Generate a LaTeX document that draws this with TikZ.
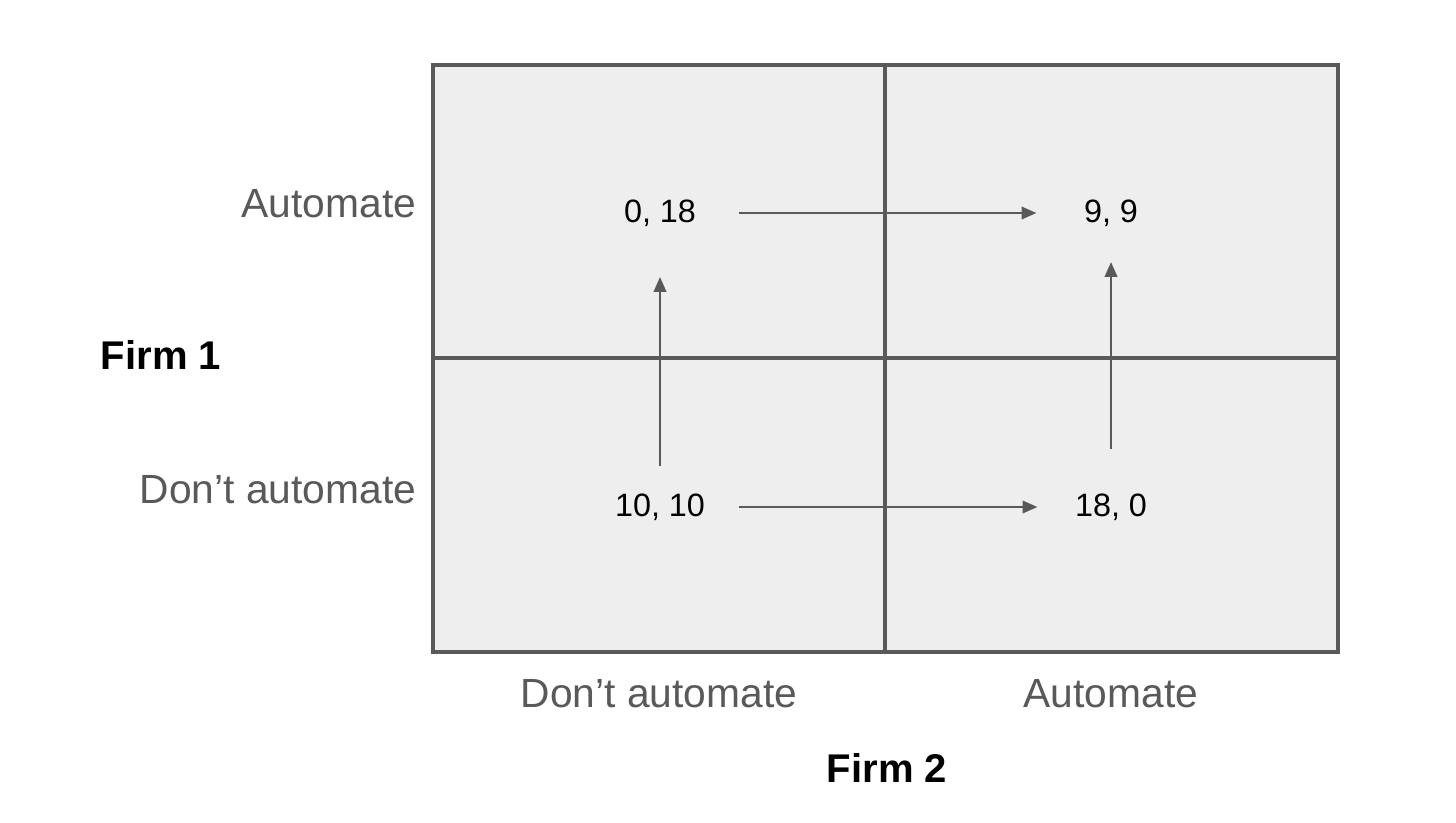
\documentclass[tikz,border=0pt]{standalone}
\usepackage{fontspec}
\setmainfont{Liberation Sans}
\usepackage{tikz}
\usetikzlibrary{positioning,arrows.meta,calc}
\definecolor{gridgray}{HTML}{595959}
\definecolor{cellgray}{HTML}{EEEEEE}

\begin{document}
\begin{tikzpicture}[
  payoff/.style={
    font=\fontsize{9.2pt}{11pt}\selectfont,
    text=black,
    inner sep=0pt
  },
  choice/.style={
    font=\fontsize{11.6pt}{14pt}\selectfont,
    text=gridgray,
    inner sep=0pt
  },
  player/.style={
    font=\fontsize{11.4pt}{14pt}\selectfont\bfseries,
    text=black,
    inner sep=0pt
  },
  move/.style={
    draw=gridgray,
    line width=0.45pt,
    -{Triangle[length=4.2pt,width=3.6pt]}
  }
]
\useasboundingbox (0,0) rectangle (14.56,-8.22);
% The 2x2 payoff table.
  \path[draw=gridgray,fill=cellgray,line width=0.9pt]
    (4.33,-0.65) rectangle (13.38,-6.52);
  \draw[gridgray,line width=0.9pt] (8.85,-0.65) -- (8.85,-6.52);
  \draw[gridgray,line width=0.9pt] (4.33,-3.58) -- (13.38,-3.58);
\node[payoff] (aa) at (6.60,-2.13) {0, 18};
  \node[payoff] (ab) at (11.11,-2.13) {9, 9};
  \node[payoff] (ba) at (6.60,-5.07) {10, 10};
  \node[payoff] (bb) at (11.11,-5.07) {18, 0};
\node[choice,anchor=east] (row1) at (4.17,-2.04) {Automate};
  \node[choice,anchor=east] (row2) at (4.17,-4.90) {Don’t automate};
  \node[choice] (col1) at (6.59,-6.94) {Don’t automate};
  \node[choice] (col2) at (11.11,-6.94) {Automate};
  \node[player] (firm1) at (1.61,-3.55) {Firm 1};
  \node[player] (firm2) at (8.87,-7.68) {Firm 2};
% Best responses.
  \draw[move,shorten <=0.42cm,shorten >=0.47cm] (aa) -- (ab);
  \draw[move,shorten <=0.33cm,shorten >=0.37cm] (ba.east) -- (bb.west);
  \draw[move,shorten <=0.27cm,shorten >=0.50cm] (ba.north) -- (aa.south);
  \draw[move,shorten <=0.44cm,shorten >=0.35cm] (bb.north) -- (ab.south);
\end{tikzpicture}
\end{document}
